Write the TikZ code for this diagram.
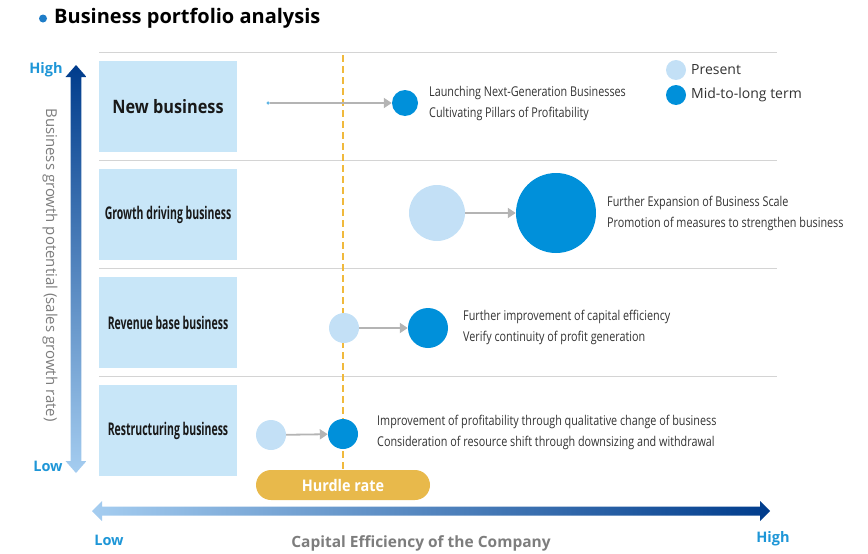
\documentclass[tikz,border=0pt]{standalone}
\usepackage{fontspec}
\setmainfont{Open Sans}
\newfontfamily\condfont[FakeStretch=0.8]{Open Sans}
\newfontfamily\boxfont[FakeStretch=0.6]{Open Sans}
\newfontfamily\newbizfont[FakeStretch=0.88]{Open Sans}
\newfontfamily\hurdfont[FakeStretch=0.9]{Open Sans}
\usetikzlibrary{arrows.meta}
\definecolor{boxblue}{RGB}{200,230,248}
\definecolor{lightdot}{RGB}{195,224,246}
\definecolor{darkdot}{RGB}{0,144,218}
\definecolor{arrowgray}{RGB}{180,180,180}
\definecolor{sepgray}{RGB}{212,212,212}
\definecolor{gold}{RGB}{232,185,75}
\definecolor{dashgold}{RGB}{240,185,60}
\definecolor{labelblue}{RGB}{30,150,215}
\definecolor{axisgray}{RGB}{125,125,125}
\definecolor{notegray}{RGB}{50,50,50}
\definecolor{navy}{RGB}{0,60,140}
\definecolor{lightgrad}{RGB}{165,205,240}
\definecolor{titleblue}{RGB}{30,125,200}
\begin{document}
\begin{tikzpicture}[x=1pt,y=-1pt,
  bizbox/.style={fill=boxblue, minimum width=138pt, minimum height=91pt, inner sep=0pt,
    font=\boxfont\bfseries\fontsize{17.5}{19}\selectfont, text=black!90},
  presentdot/.style={circle, fill=lightdot, inner sep=0pt, minimum size=#1},
  middot/.style={circle, fill=darkdot, inner sep=0pt, minimum size=#1},
  flow/.style={draw=arrowgray, line width=1.8pt, -{Triangle[length=8pt,width=10pt]}},
  note/.style={anchor=west, align=left, inner sep=0pt,
    font=\condfont\fontsize{13.5}{21}\selectfont, text=notegray},
  sepline/.style={draw=sepgray, line width=1pt},
  legendtext/.style={anchor=west, inner sep=0pt, font=\fontsize{14}{16}\selectfont, text=notegray},
  axislabel/.style={inner sep=0pt, font=\bfseries\fontsize{14.5}{16}\selectfont, text=labelblue}
]
\useasboundingbox (0,0) rectangle (868,554);

% title
\node[circle, fill=titleblue, inner sep=0pt, minimum size=8pt] (tdot) at (43,18.5) {};
\node[anchor=west, inner sep=0pt, font=\bfseries\fontsize{20}{22}\selectfont] (title) at (54,18) {Business portfolio analysis};

% separator lines
\coordinate (s1a) at (99,52);  \coordinate (s1b) at (777,52);
\coordinate (s2a) at (99,160); \coordinate (s2b) at (777,160);
\coordinate (s3a) at (99,268); \coordinate (s3b) at (777,268);
\coordinate (s4a) at (99,376); \coordinate (s4b) at (777,376);
\draw[sepline] (s1a) -- (s1b);
\draw[sepline] (s2a) -- (s2b);
\draw[sepline] (s3a) -- (s3b);
\draw[sepline] (s4a) -- (s4b);

% boxes
\node[bizbox, font=\newbizfont\bfseries\fontsize{18.5}{20}\selectfont] (b1) at (168,106.5) {New business};
\node[bizbox] (b2) at (168,214.5) {Growth driving business};
\node[bizbox] (b3) at (168,322.5) {Revenue base business};
\node[bizbox] (b4) at (168,430.5) {Restructuring business};

% hurdle
\node[fill=gold, rounded corners=15pt, minimum width=174pt, minimum height=30pt, inner sep=0pt,
  text=white, font=\hurdfont\bfseries\fontsize{16}{18}\selectfont] (hurdle) at (343,485) {Hurdle rate};
\coordinate (hurdtop) at (343,55);
\draw[dashgold, line width=2pt, dash pattern=on 7pt off 4pt] (hurdtop) -- (hurdle.north);

% circles
\node[presentdot=3.5pt, fill=labelblue!70] (p1) at (268,103) {};
\node[middot=26pt] (m1) at (405,103) {};
\node[presentdot=56pt] (p2) at (437,213) {};
\node[middot=80pt] (m2) at (556,213) {};
\node[presentdot=30pt] (p3) at (344,328) {};
\node[middot=40pt] (m3) at (428,328) {};
\node[presentdot=30pt] (p4) at (271,435) {};
\node[middot=30pt] (m4) at (343,434) {};

\draw[flow] (p1) -- (m1);
\draw[flow] (p2) -- (m2);
\draw[flow] (p3) -- (m3);
\draw[flow] (p4) -- (m4);

% notes
\node[note] (t1) at (429,103.5) {Launching Next-Generation Businesses\\Cultivating Pillars of Profitability};
\node[note] (t2) at (607,213.5) {Further Expansion of Business Scale\\Promotion of measures to strengthen business};
\node[note] (t3) at (463,327.5) {Further improvement of capital efficiency\\Verify continuity of profit generation};
\node[note] (t4) at (377,432.5) {Improvement of profitability through qualitative change of business\\Consideration of resource shift through downsizing and withdrawal};

% legend
\node[presentdot=20pt] (l1) at (676,70) {};
\node[legendtext] (l1t) at (691,70) {Present};
\node[middot=20pt] (l2) at (676,95) {};
\node[legendtext] (l2t) at (691,95) {Mid-to-long term};

% vertical axis
\shade[top color=navy, bottom color=lightgrad]
  (76,65) -- (86.5,77) -- (81.3,77) -- (81.3,461) -- (86.5,461) -- (76,473)
  -- (65.5,461) -- (70.7,461) -- (70.7,77) -- (65.5,77) -- cycle;
\node[axislabel] (vhigh) at (46,70) {High};
\node[axislabel] (vlow) at (48,466) {Low};
\node[rotate=-90, inner sep=0pt, font=\fontsize{15}{17}\selectfont, text=axisgray] (vlab) at (50,265)
  {Business growth potential (sales growth rate)};

% horizontal axis
\shade[left color=lightgrad, right color=navy]
  (92,511) -- (102,501) -- (102,506.5) -- (760,506.5) -- (760,501) -- (770,511)
  -- (760,521) -- (760,515.5) -- (102,515.5) -- (102,521) -- cycle;
\node[axislabel] (hlow) at (109,540) {Low};
\node[axislabel] (hhigh) at (773,539) {High};
\node[inner sep=0pt, font=\bfseries\fontsize{15.5}{17}\selectfont, text=axisgray] (hlab) at (421,543)
  {Capital Efficiency of the Company};
\end{tikzpicture}
\end{document}
